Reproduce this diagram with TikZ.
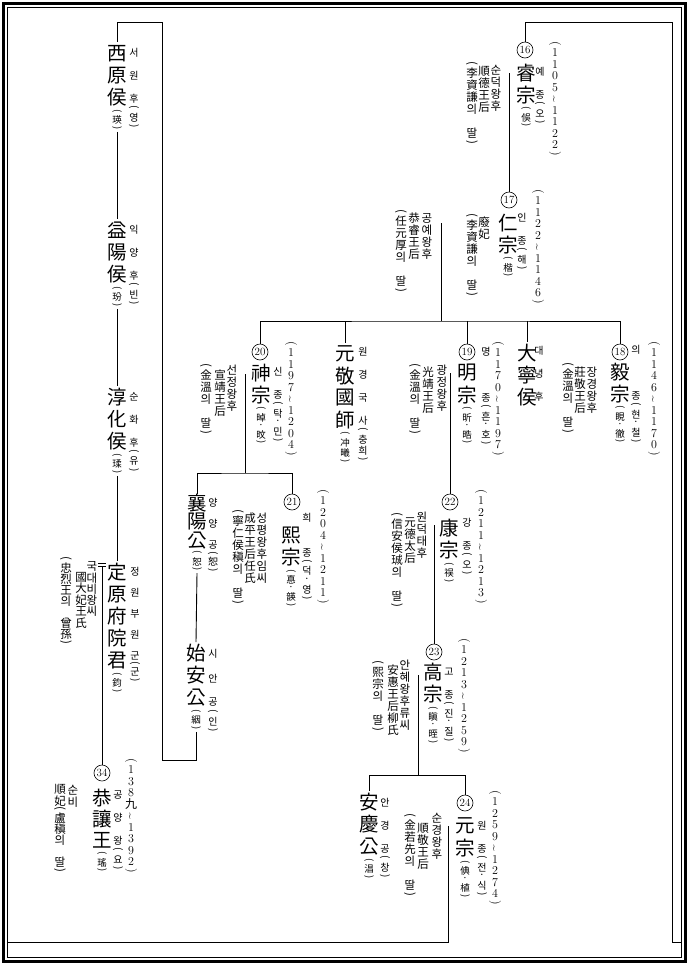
\documentclass[tikz,border=0pt]{standalone}
\usepackage{fontspec}
\newfontfamily\kr{Noto Sans CJK KR}
\usetikzlibrary{positioning}

\newlength\vch
\newlength\vcw
\newcommand\vend{VEND}
\newcommand\vlp{LP}
\newcommand\vrp{RP}
\newcommand\vmd{MD}
\newcommand\vtl{TL}
\newcommand\vgap{}
\makeatletter
\newcommand\vcell[2]{\hbox to \vcw{\hss\vbox to #1\vch{\vss\hbox{#2}\vss}\hss}}
\newcommand\vtxt[1]{\vbox{\offinterlineskip\vtxt@#1\vend}}
\def\vtxt@#1{%
  \ifx\vend#1\else
    \ifx\vlp#1\vcell{.6}{\rotatebox[origin=c]{-90}{(}}%
    \else\ifx\vrp#1\vcell{.6}{\rotatebox[origin=c]{-90}{)}}%
    \else\ifx\vmd#1\vcell{.6}{·}%
    \else\ifx\vtl#1\vcell{1}{\rotatebox[origin=c]{90}{\textasciitilde}}%
    \else\vcell{1}{#1}\fi\fi\fi\fi
    \expandafter\vtxt@
  \fi}
\makeatother

\begin{document}
\begin{tikzpicture}[x=1pt,y=-1pt,
  ln/.style={line width=0.9pt},
  eq/.style={double,double distance=2.2pt,line width=0.6pt},
  num/.style={draw,circle,line width=0.6pt,inner sep=0pt,minimum size=16pt,font=\fontsize{11}{11}\selectfont},
  big/.style={inner sep=0pt,anchor=north,font={\kr\fontsize{19.5}{19.5}\selectfont\setlength\vch{#1}\setlength\vcw{21pt}}},
  big/.default=22pt,
  nm/.style={inner sep=0pt,anchor=north,font={\kr\fontsize{9.5}{9.5}\selectfont\setlength\vch{10.5pt}\setlength\vcw{10pt}}},
  rd/.style={inner sep=0pt,anchor=north,font={\kr\fontsize{10}{10}\selectfont\setlength\vch{#1}\setlength\vcw{10pt}}},
  rd/.default=11.5pt,
  sp/.style={inner sep=0pt,anchor=north,font={\kr\fontsize{11.5}{11.5}\selectfont\setlength\vch{#1}\setlength\vcw{12pt}}},
  sp/.default=12pt,
  dt/.style={inner sep=0pt,anchor=north,font={\fontsize{12}{12}\selectfont\setlength\vch{11.5pt}\setlength\vcw{8pt}}}]
  \useasboundingbox (0,0) rectangle (690,967);
  \draw[line width=3pt] (3,3) rectangle (685.5,961.5);
  \draw[line width=0.8pt] (7.5,7.5) rectangle (681.5,957.5);

  % 16
  \node[num] (n16) at (525,50) {16};
  \node[big] (k16) at (526,61.5) {\vtxt{睿宗}};
  \node[nm,below=0pt of k16] (p16) {\vtxt{\vlp 俁\vrp}};
  \node[rd] (r16) at (540,66) {\vtxt{예\vgap 종\vlp 오\vrp}};
  \node[dt] (d16) at (555,40) {\vtxt{\vlp 1105\vtl 1122\vrp}};
  \node[sp] (s16a) at (496,64) {\vtxt{순덕왕후}};
  \node[sp] (s16b) at (484,65) {\vtxt{順德王后}};
  \node[sp] (s16c) at (472,60) {\vtxt{\vlp 李資謙의\vgap 딸\vrp}};
  \coordinate (m16) at (509,71.5);
  \draw[eq] (s16a.east |- m16) -- (k16.west |- m16);

  % 17
  \node[num] (n17) at (509,200) {17};
  \node[big] (k17) at (508,211.5) {\vtxt{仁宗}};
  \node[nm,below=0pt of k17] (p17) {\vtxt{\vlp 楷\vrp}};
  \node[rd] (r17) at (522,212) {\vtxt{인\vgap 종\vlp 해\vrp}};
  \node[dt] (d17) at (538,188) {\vtxt{\vlp 1122\vtl 1146\vrp}};
  \node[sp] (s17a) at (484,216) {\vtxt{廢妃}};
  \node[sp] (s17b) at (472,212) {\vtxt{\vlp 李資謙의\vgap 딸\vrp}};
  \node[sp] (s17c) at (427,212) {\vtxt{공예왕후}};
  \node[sp] (s17d) at (414,212) {\vtxt{恭睿王后}};
  \node[sp] (s17e) at (401,208) {\vtxt{\vlp 任元厚의\vgap 딸\vrp}};
  \coordinate (m17) at (441,221.5);
  \draw[eq] (s17a.east |- m17) -- (k17.west |- m17);
  \draw[eq] (s17c.east |- m17) -- (s17b.west |- m17);

  % 18
  \node[num] (n18) at (620,352) {18};
  \node[big] (k18) at (620,360.5) {\vtxt{毅宗}};
  \node[nm,below=0pt of k18] (p18) {\vtxt{\vlp 睍\vmd 徹\vrp}};
  \node[rd] (r18) at (636,344) {\vtxt{의\vgap\vgap\vgap 종\vlp 현\vmd 철\vrp}};
  \node[dt] (d18) at (654,340) {\vtxt{\vlp 1146\vtl 1170\vrp}};
  \node[sp] (s18a) at (592,366) {\vtxt{장경왕후}};
  \node[sp] (s18b) at (580,366) {\vtxt{莊敬王后}};
  \node[sp] (s18c) at (568,361) {\vtxt{\vlp 金溫의\vgap 딸\vrp}};
  \coordinate (m18) at (604,371.5);
  \draw[eq] (s18a.east |- m18) -- (k18.west |- m18);

  % 19
  \node[num] (n19) at (467,352) {19};
  \node[big] (k19) at (467,361.5) {\vtxt{明宗}};
  \node[nm,below=0pt of k19] (p19) {\vtxt{\vlp 昕\vmd 晧\vrp}};
  \node[rd] (r19) at (486,346) {\vtxt{명\vgap\vgap\vgap 종\vlp 흔\vmd 호\vrp}};
  \node[dt] (d19) at (498,340) {\vtxt{\vlp 1170\vtl 1197\vrp}};
  \node[sp] (s19a) at (442,364) {\vtxt{광정왕후}};
  \node[sp] (s19b) at (428,366) {\vtxt{光靖王后}};
  \node[sp] (s19c) at (415,362) {\vtxt{\vlp 金溫의\vgap 딸\vrp}};
  \coordinate (m19) at (450,371.5);
  \draw[eq] (s19a.east |- m19) -- (k19.west |- m19);

  % 大寧侯, 元敬國師
  \node[big] (kD) at (527,341.5) {\vtxt{大寧侯}};
  \node[rd] (rD) at (539,344.5) {\vtxt{대\vgap 녕\vgap 후}};
  \node[big] (kW) at (345,342.5) {\vtxt{元敬國師}};
  \node[nm,below=0pt of kW] (pW) {\vtxt{\vlp 冲曦\vrp}};
  \node[rd] (rW) at (363,346) {\vtxt{원\vgap 경\vgap 국\vgap 사\vlp 충희\vrp}};

  % 20
  \node[num] (n20) at (260,352) {20};
  \node[big] (k20) at (261,361.5) {\vtxt{神宗}};
  \node[nm,below=0pt of k20] (p20) {\vtxt{\vlp 晫\vmd 旼\vrp}};
  \node[rd] (r20) at (278,366) {\vtxt{신\vgap 종\vlp 탁\vmd 민\vrp}};
  \node[dt] (d20) at (291,340) {\vtxt{\vlp 1197\vtl 1204\vrp}};
  \node[sp] (s20a) at (232,364) {\vtxt{선정왕후}};
  \node[sp] (s20b) at (220,369) {\vtxt{宣靖王后}};
  \node[sp] (s20c) at (206,362) {\vtxt{\vlp 金溫의\vgap 딸\vrp}};
  \coordinate (m20) at (245,372.5);
  \draw[eq] (s20a.east |- m20) -- (k20.west |- m20);

  % 21, 襄陽公, 始安公
  \node[num] (n21) at (292,502) {21};
  \node[big] (k21) at (291,524) {\vtxt{熙宗}};
  \node[nm,below=0pt of k21] (p21) {\vtxt{\vlp 惪\vmd 韺\vrp}};
  \node[rd] (r21) at (307,512) {\vtxt{희\vgap\vgap 종\vlp 덕\vmd 영\vrp}};
  \node[dt] (d21) at (323,488) {\vtxt{\vlp 1204\vtl 1211\vrp}};
  \node[sp] (s21a) at (262,512) {\vtxt{성평왕후임씨}};
  \node[sp] (s21b) at (250,512) {\vtxt{成平王后任氏}};
  \node[sp] (s21c) at (238,508) {\vtxt{\vlp 寧仁侯稹의\vgap 딸\vrp}};
  \coordinate (m21) at (279,523.5);
  \draw[eq] (s21a.east |- m21) -- (k21.west |- m21);
  \node[big=18.5pt] (kS) at (197,493.75) {\vtxt{襄陽公}};
  \node[nm,below=0pt of kS] (pS) {\vtxt{\vlp 恕\vrp}};
  \node[rd=10.5pt] (rS) at (213,497.75) {\vtxt{양\vgap 양\vgap 공\vlp 恕\vrp}};
  \node[big] (kA) at (196,642) {\vtxt{始安公}};
  \node[nm,below=0pt of kA] (pA) {\vtxt{\vlp 絪\vrp}};
  \node[rd=12pt] (rA) at (213,648) {\vtxt{시\vgap 안\vgap 공\vlp 인\vrp}};

  % 西原侯 ... 定原府院君
  \node[big] (k1) at (117,42) {\vtxt{西原侯}};
  \node[nm,below=0pt of k1] (p1) {\vtxt{\vlp 瑛\vrp}};
  \node[rd] (r1) at (134,47) {\vtxt{서\vgap 원\vgap 후\vlp 영\vrp}};
  \node[big] (k2) at (117,219) {\vtxt{益陽侯}};
  \node[nm,below=0pt of k2] (p2) {\vtxt{\vlp 玢\vrp}};
  \node[rd] (r2) at (134,224) {\vtxt{익\vgap 양\vgap 후\vlp 빈\vrp}};
  \node[big] (k3) at (117,386) {\vtxt{淳化侯}};
  \node[nm,below=0pt of k3] (p3) {\vtxt{\vlp 瑈\vrp}};
  \node[rd] (r3) at (134,391) {\vtxt{순\vgap 화\vgap 후\vlp 유\vrp}};
  \node[big] (k4) at (117,561) {\vtxt{定原府院君}};
  \node[nm,below=0pt of k4] (p4) {\vtxt{\vlp 鈞\vrp}};
  \node[rd=10.5pt] (r4) at (135,566) {\vtxt{정\vgap 원\vgap 부\vgap 원\vgap 군\vlp 군\vrp}};
  \node[sp=11pt] (s4a) at (92,561) {\vtxt{국대비왕씨}};
  \node[sp=11.5pt] (s4b) at (81,571) {\vtxt{國大妃王氏}};
  \node[sp=11pt] (s4c) at (66,556) {\vtxt{\vlp 忠烈王의\vgap 曾孫\vrp}};
  \coordinate (m4) at (102,565);
  \draw[eq] (s4a.east |- m4) -- (k4.west |- m4);

  % 34
  \node[num] (n34) at (102,773) {34};
  \node[big=21pt] (k34) at (102,787.5) {\vtxt{恭讓王}};
  \node[nm,below=0pt of k34] (p34) {\vtxt{\vlp 瑤\vrp}};
  \node[rd] (r34) at (118,789) {\vtxt{공\vgap 양\vgap 왕\vlp 요\vrp}};
  \node[dt] (d34) at (131,757) {\vtxt{\vlp 138{\kr 九}\vtl 1392\vrp}};
  \node[sp] (s34a) at (73,784) {\vtxt{순비}};
  \node[sp=11pt] (s34b) at (60,784) {\vtxt{順妃\vlp 盧稹의\vgap 딸\vrp}};
  \coordinate (m34) at (87,801.5);
  \draw[eq] (s34a.east |- m34) -- (k34.west |- m34);

  % 22
  \node[num] (n22) at (450,502) {22};
  \node[big] (k22) at (449,517) {\vtxt{康宗}};
  \node[nm,below=0pt of k22] (p22) {\vtxt{\vlp 祦\vrp}};
  \node[rd] (r22) at (467,517) {\vtxt{강\vgap 종\vlp 오\vrp}};
  \node[dt] (d22) at (481,488) {\vtxt{\vlp 1211\vtl 1213\vrp}};
  \node[sp] (s22a) at (422,511) {\vtxt{원덕태후}};
  \node[sp] (s22b) at (410,516) {\vtxt{元德太后}};
  \node[sp] (s22c) at (397,511) {\vtxt{\vlp 信安侯珹의\vgap 딸\vrp}};
  \coordinate (m22) at (434,523.5);
  \draw[eq] (s22a.east |- m22) -- (k22.west |- m22);

  % 23
  \node[num] (n23) at (434,652) {23};
  \node[big] (k23) at (433,661) {\vtxt{高宗}};
  \node[nm,below=0pt of k23] (p23) {\vtxt{\vlp 瞋\vmd 晊\vrp}};
  \node[rd] (r23) at (449,666) {\vtxt{고\vgap 종\vlp 진\vmd 질\vrp}};
  \node[dt] (d23) at (464,637) {\vtxt{\vlp 1213\vtl 1259\vrp}};
  \node[sp] (s23a) at (405,659) {\vtxt{안혜왕후류씨}};
  \node[sp] (s23b) at (393,664) {\vtxt{安惠王后柳氏}};
  \node[sp] (s23c) at (378,659) {\vtxt{\vlp 熙宗의\vgap 딸\vrp}};
  \coordinate (m23) at (418,673.5);
  \draw[eq] (s23a.east |- m23) -- (k23.west |- m23);

  % 24, 安慶公
  \node[num] (n24) at (465,803) {24};
  \node[big] (k24) at (465,815) {\vtxt{元宗}};
  \node[nm,below=0pt of k24] (p24) {\vtxt{\vlp 倎\vmd 植\vrp}};
  \node[rd] (r24) at (482,820) {\vtxt{원\vgap 종\vlp 전\vmd 식\vrp}};
  \node[dt] (d24) at (495,789) {\vtxt{\vlp 1259\vtl 1274\vrp}};
  \node[sp] (s24a) at (437,812) {\vtxt{순경왕후}};
  \node[sp] (s24b) at (423,822) {\vtxt{順敬王后}};
  \node[sp] (s24c) at (410,812) {\vtxt{\vlp 金若先의\vgap 딸\vrp}};
  \coordinate (m24) at (448,824.5);
  \draw[eq] (s24a.east |- m24) -- (k24.west |- m24);
  \node[big] (kK) at (369,791) {\vtxt{安慶公}};
  \node[nm,below=0pt of kK] (pK) {\vtxt{\vlp 淐\vrp}};
  \node[rd] (rK) at (385,797) {\vtxt{안\vgap 경\vgap 공\vlp 창\vrp}};

  % lines
  \coordinate (b17) at (441,321);
  \coordinate (b20) at (245,473);
  \coordinate (b23) at (418,775);
  \coordinate (c1) at (162,760);
  \coordinate (c2) at (162,22);
  \coordinate (c3) at (672,22);
  \coordinate (c4) at (672,942);
  \coordinate (c5) at (681.5,942);
  \coordinate (c6) at (7.5,942);
  \draw[ln] (n16.north) |- (c3) -- (c4) -- (c5);
  \draw[ln] ([yshift=-1.5pt]m16) -- (n17.north);
  \draw[ln] ([yshift=-1.5pt]m17) -- (b17);
  \draw[ln] (n20.north) |- (b17) -| (n18.north);
  \foreach \c in {kW,n19,kD}
    \draw[ln] (\c.north |- b17) -- (\c.north);
  \draw[ln] ([yshift=-1.5pt]m19) -- (n22.north);
  \draw[ln] ([yshift=-1.5pt]m20) -- (b20);
  \draw[ln] (kS.north) |- (b20) -| (n21.north);
  \draw[ln] (pS.south) -- (kA.north);
  \draw[ln] (pA.south) |- (c1) -- (c2) -| (k1.north);
  \draw[ln] (p1.south) -- (k2.north);
  \draw[ln] (p2.south) -- (k3.north);
  \draw[ln] (p3.south) -- (k4.north);
  \draw[ln] ([yshift=-1.5pt]m4) -- (n34.north);
  \draw[ln] ([yshift=-1.5pt]m22) -- (n23.north);
  \draw[ln] ([yshift=-1.5pt]m23) -- (b23);
  \draw[ln] (kK.north) |- (b23) -| (n24.north);
  \draw[ln] ([yshift=-1.5pt]m24) |- (c6);
\end{tikzpicture}
\end{document}
